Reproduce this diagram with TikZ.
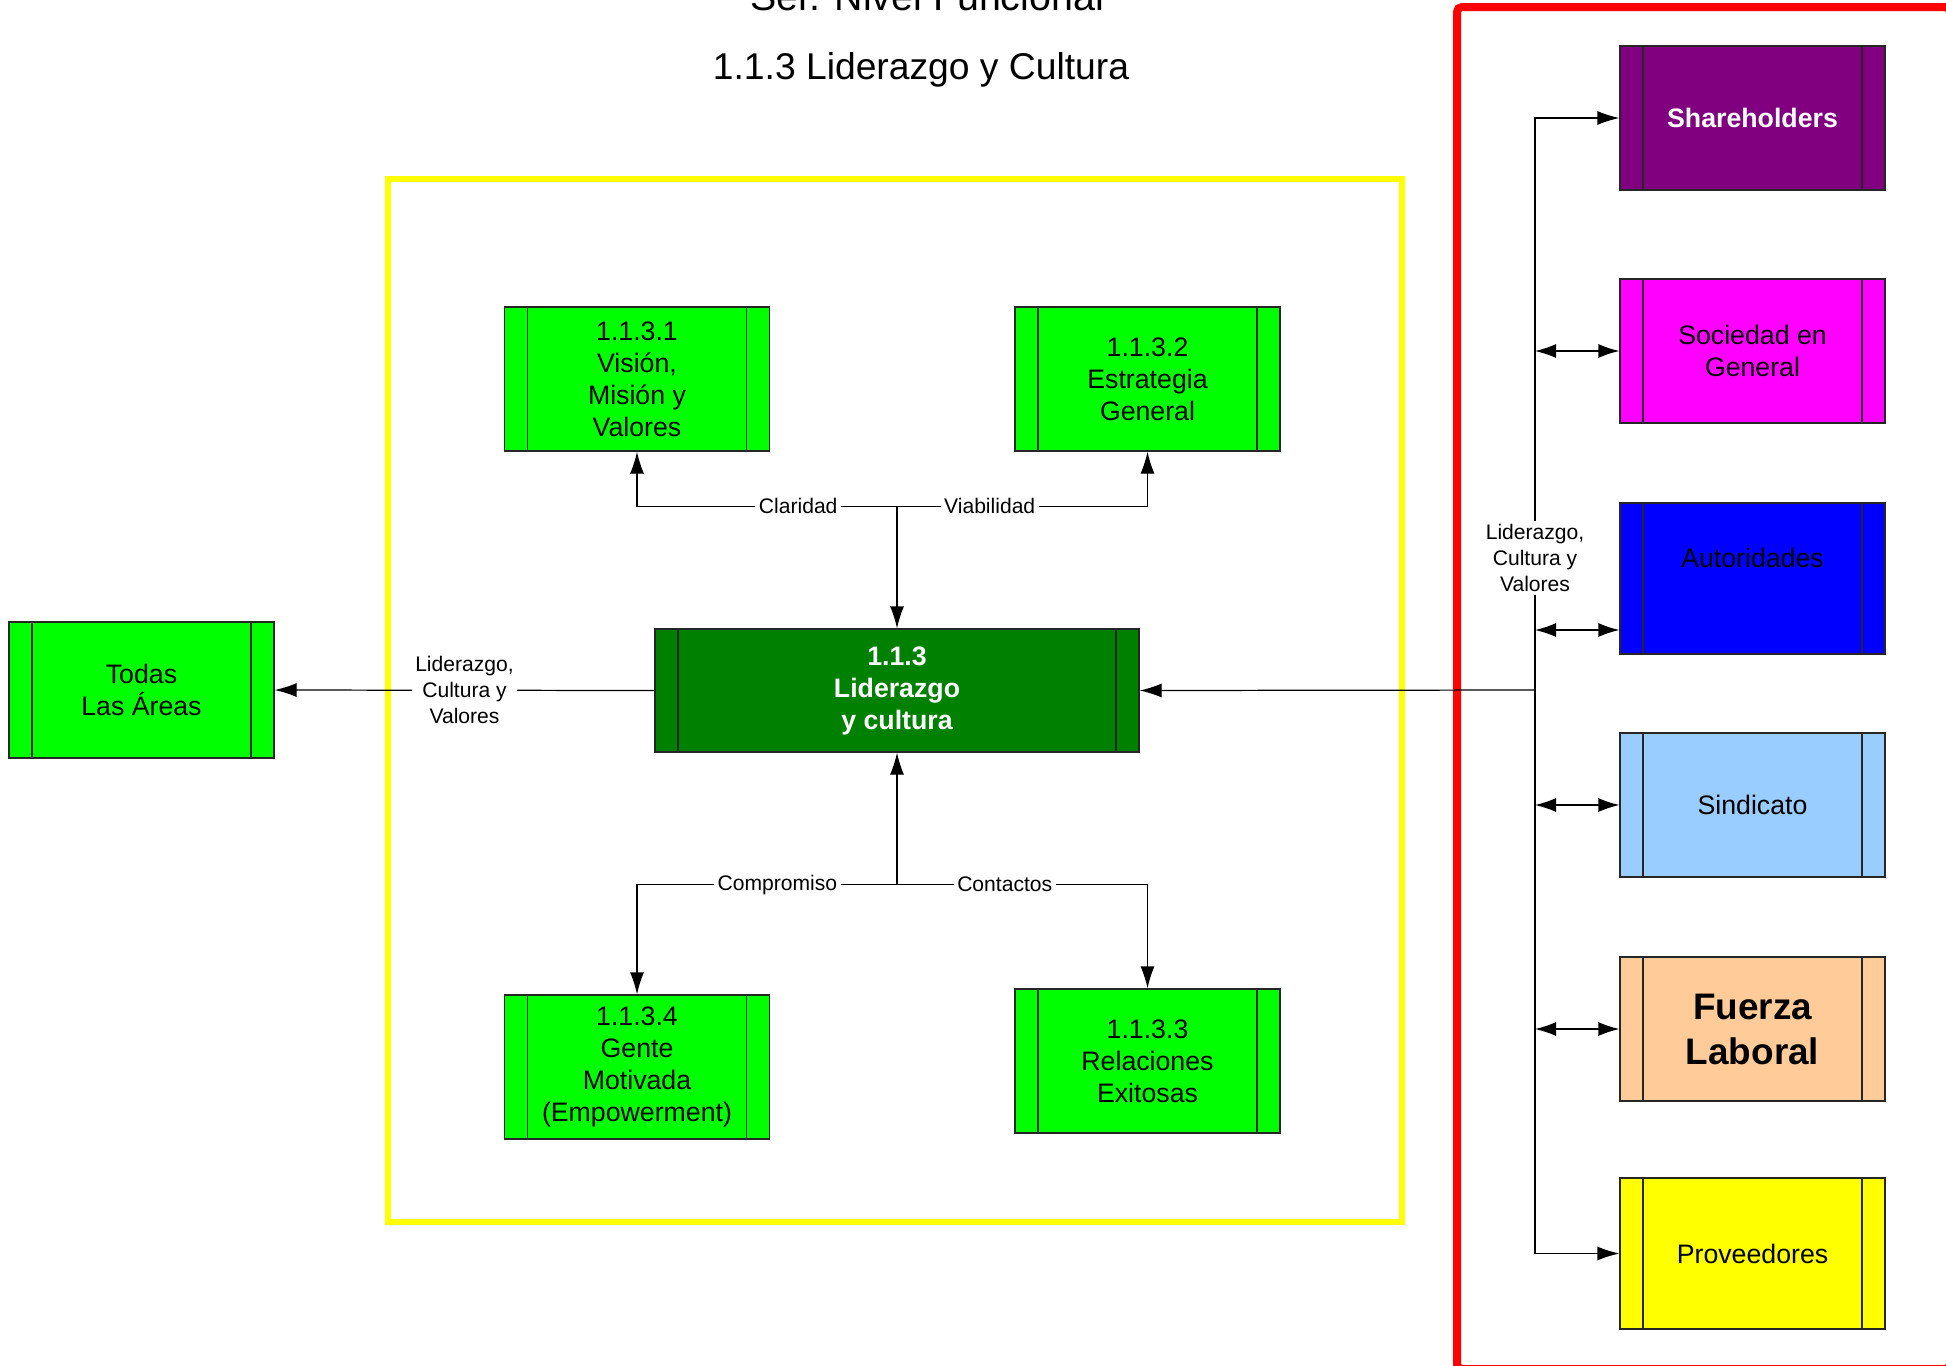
\documentclass[tikz,border=0pt]{standalone}
\usepackage{fontspec}
\setmainfont{Liberation Sans}
\usetikzlibrary{arrows.meta}

\definecolor{procgreen}{HTML}{00FF00}
\definecolor{leadgreen}{HTML}{008000}
\definecolor{sharepurple}{HTML}{800080}
\definecolor{socmagenta}{HTML}{FF00FF}
\definecolor{autblue}{HTML}{0000FF}
\definecolor{sindblue}{HTML}{99CCFF}
\definecolor{laborpeach}{HTML}{FFCC99}
\definecolor{provyellow}{HTML}{FFFF00}
\definecolor{framered}{HTML}{FF0000}
\definecolor{frameyellow}{HTML}{FFFF00}

\begin{document}
\begin{tikzpicture}[
line width=0.35 pt,
procbox/.style={
draw=black!85,
minimum width=2.65 cm,
minimum height=1.44 cm,
inner sep=0 pt,
align=center,
font=\fontsize{7.6}{9.1}\selectfont,
path picture={
\draw[black!85]
([xshift=0.23 cm]path picture bounding box.north west) -- ([xshift=0.23 cm]path picture bounding box.south west)
([xshift=-0.23 cm]path picture bounding box.north east) -- ([xshift=-0.23 cm]path picture bounding box.south east);
},
},
flow/.style={-{Latex[length=2.2mm, width=1.4mm]}},
bothways/.style={{Latex[length=2.1mm, width=1.4mm]}-{Latex[length=2.1mm, width=1.4mm]}},
flowlabel/.style={
fill=white,
inner sep=1 pt,
align=center,
font=\fontsize{6}{7.4}\selectfont,
}
]
\useasboundingbox (0,0) rectangle (19.46,-13.65);

% frames
\draw[frameyellow, line width=0.65 mm] (3.88,-1.79) rectangle (14.02,-12.22);
\draw[framered, line width=0.8 mm, rounded corners=0.5 mm] (14.57,-0.07) rectangle (19.50,-13.69);

% titles
\node[anchor=base, font=\fontsize{11.2}{13}\selectfont] at (9.27,-0.10) (ttl) {Ser. Nivel Funcional};
\node[anchor=base, font=\fontsize{10.6}{12}\selectfont] at (9.21,-0.79) (subttl) {1.1.3 Liderazgo y Cultura};

% inner processes
\node [procbox, fill=procgreen] at (6.37,-3.79) (vmv)
{1.1.3.1\\Visión,\\Misión y\\Valores};
\node [procbox, fill=procgreen] at (11.475,-3.79) (est)
{1.1.3.2\\Estrategia\\General};
\node [procbox, fill=leadgreen, text=white, minimum width=4.84 cm, minimum height=1.23 cm,
font=\fontsize{7.6}{9.1}\selectfont\bfseries] at (8.97,-6.905) (lid)
{1.1.3\\Liderazgo\\y cultura};
\node [procbox, fill=procgreen] at (6.37,-10.67) (gm)
{1.1.3.4\\Gente\\Motivada\\(Empowerment)};
\node [procbox, fill=procgreen] at (11.475,-10.61) (rel)
{1.1.3.3\\Relaciones\\Exitosas};
\node [procbox, fill=procgreen, minimum height=1.36 cm] at (1.415,-6.90) (todas)
{Todas\\Las Áreas};

% stakeholders
\node [procbox, fill=sharepurple, text=white, font=\fontsize{7.6}{9.1}\selectfont\bfseries]
at (17.525,-1.18) (sh) {Shareholders};
\node [procbox, fill=socmagenta] at (17.525,-3.51) (soc) {Sociedad en\\General};
\node [procbox, fill=autblue, minimum height=1.51 cm] at (17.525,-5.785) (aut) {Autoridades\\ \strut};
\node [procbox, fill=sindblue] at (17.525,-8.05) (sin) {Sindicato};
\node [procbox, fill=laborpeach, font=\fontsize{10.5}{12.8}\selectfont\bfseries]
at (17.525,-10.29) (fl) {Fuerza\\Laboral};
\node [procbox, fill=provyellow, minimum height=1.51 cm] at (17.525,-12.535) (pv) {Proveedores};

\path
(15.35,-6.90) coordinate(bus)
([yshift=-0.515 cm]aut.west) coordinate(autin)
(lid.north) ++(0,1.22) coordinate(jtop)
(lid.south) ++(0,-1.32) coordinate(jbot)
;

% stakeholder bus
\draw[flow] (bus) -- (lid.east);
\draw[flow] (bus) |- (sh.west);
\draw[flow] (bus) |- (pv.west);
\draw[bothways] (bus |- soc.west) -- (soc.west);
\draw[bothways] (bus |- autin) -- (autin);
\draw[bothways] (bus |- sin.west) -- (sin.west);
\draw[bothways] (bus |- fl.west) -- (fl.west);
\node[flowlabel] at (15.35,-5.58) (buslbl) {Liderazgo,\\Cultura y\\Valores};

% towards all areas
\draw[flow] (lid.west) -- node[flowlabel] {Liderazgo,\\Cultura y\\Valores} (todas.east);

% upper branches
\draw[flow] (jtop) -- (lid.north);
\draw[flow] (jtop) -| node[flowlabel, pos=0.19] {Claridad} (vmv.south);
\draw[flow] (jtop) -| node[flowlabel, pos=0.185] {Viabilidad} (est.south);

% lower branches
\draw[flow] (jbot) -- (lid.south);
\draw[flow] (jbot) -| node[flowlabel, pos=0.23] {Compromiso} (gm.north);
\draw[flow] (jbot) -| node[flowlabel, pos=0.215] {Contactos} (rel.north);

\end{tikzpicture}
\end{document}
